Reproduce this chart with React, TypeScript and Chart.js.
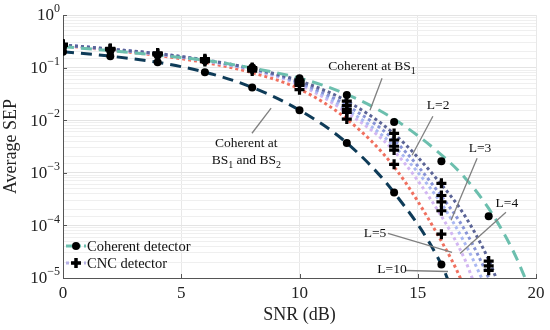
import { useEffect, useRef } from 'react';
import { Chart, registerables } from 'chart.js';

Chart.register(...registerables);

const FONT = '"Liberation Serif", "DejaVu Serif", serif';

// ---- data ----
const snrMarkers = [0, 2, 4, 6, 8, 10, 12, 14, 16, 18];

const coherentBS1X = [0, 2, 4, 6, 8, 10, 12, 14, 16, 17, 18, 19, 19.5, 20];
const coherentBS1Y = [0.25, 0.21, 0.172, 0.138, 0.098, 0.063, 0.031, 0.0105, 2.2e-3, 8e-4, 2.1e-4, 3.5e-5, 1.1e-5, 3e-6];

const coherentBothX = [0, 2, 4, 6, 8, 10, 12, 14, 16, 16.5, 17];
const coherentBothY = [0.2, 0.165, 0.126, 0.082, 0.042, 0.0155, 0.0037, 4.2e-4, 1.8e-5, 5e-6, 1.2e-6];

const cncL2X = [0, 2, 4, 6, 8, 10, 12, 14, 16, 17, 18, 18.5, 19];
const cncL2Y = [0.27, 0.225, 0.185, 0.14, 0.096, 0.056, 0.023, 5.5e-3, 6e-4, 1.5e-4, 2.2e-5, 6e-6, 1.5e-6];
const cncL3X = [0, 2, 4, 6, 8, 10, 12, 14, 16, 17, 18, 18.5];
const cncL3Y = [0.27, 0.224, 0.183, 0.138, 0.094, 0.052, 0.019, 4.2e-3, 3.6e-4, 8e-5, 1e-5, 2.8e-6];
const cncL4X = [0, 2, 4, 6, 8, 10, 12, 14, 16, 17, 17.7, 18.2];
const cncL4Y = [0.27, 0.223, 0.182, 0.136, 0.092, 0.05, 0.016, 3.2e-3, 2.6e-4, 4.5e-5, 1e-5, 3e-6];
const cncL5X = [0, 2, 4, 6, 8, 10, 12, 14, 16, 17, 17.3, 17.8];
const cncL5Y = [0.268, 0.222, 0.18, 0.134, 0.09, 0.047, 0.014, 2.6e-3, 1.5e-4, 2.2e-5, 1e-5, 2.5e-6];
const cncL10X = [0, 2, 4, 6, 8, 10, 12, 14, 16, 16.8, 17.3];
const cncL10Y = [0.262, 0.215, 0.17, 0.125, 0.08, 0.039, 0.0105, 1.3e-3, 5e-5, 1e-5, 2.6e-6];

// simulation markers
const coherentBS1Sim = [0.245, 0.205, 0.17, 0.135, 0.1, 0.063, 0.03, 0.0092, 1.65e-3, 1.5e-4];
const coherentBothSim = [0.2, 0.165, 0.127, 0.082, 0.042, 0.0155, 0.0037, 4.2e-4, 1.8e-5, null];
const cncL2Sim = [0.28, 0.232, 0.19, 0.148, 0.1, 0.058, 0.023, 5.6e-3, 6.3e-4, 2.1e-5];
const cncL3Sim = [0.275, 0.228, 0.186, 0.143, 0.097, 0.053, 0.019, 4.2e-3, 3.7e-4, 1.7e-5];
const cncL4Sim = [0.272, 0.225, 0.184, 0.14, 0.095, 0.049, 0.016, 3.2e-3, 2.8e-4, 1.4e-5];
const cncL5Sim = [0.27, 0.223, 0.181, 0.137, 0.093, 0.046, 0.014, 2.7e-3, 1.9e-4, null];
const cncL10Sim = [0.265, 0.218, 0.175, 0.13, 0.086, 0.038, 0.0105, 1.45e-3, 6.8e-5, null];

const yTickExponents = [0, -1, -2, -3, -4, -5];
const xTickValues = [0, 5, 10, 15, 20];

const legendLabels = ['Coherent detector', 'CNC detector'];

type Run = { t: string; sub?: boolean; sup?: boolean };
const annotations: { lines: Run[][]; x: number; y: number[]; arrow?: [number, number, number, number] }[] = [
  { lines: [[{ t: 'Coherent at BS' }, { t: '1', sub: true }]], x: 13.07, y: [0.107], arrow: [13.49, 0.063, 12.98, 0.0155] },
  {
    lines: [[{ t: 'Coherent at' }], [{ t: 'BS' }, { t: '1', sub: true }, { t: ' and BS' }, { t: '2', sub: true }]],
    x: 7.75, y: [3.65e-3, 1.73e-3], arrow: [7.99, 5.65e-3, 8.8, 0.0169],
  },
  { lines: [[{ t: 'L=2' }]], x: 15.86, y: [0.0193], arrow: [15.64, 0.0119, 14.76, 2.16e-3] },
  { lines: [[{ t: 'L=3' }]], x: 17.63, y: [2.93e-3], arrow: [17.51, 1.89e-3, 16.41, 1.25e-4] },
  { lines: [[{ t: 'L=4' }]], x: 18.77, y: [2.62e-4], arrow: [18.73, 1.77e-4, 16.79, 2.93e-5] },
  { lines: [[{ t: 'L=5' }]], x: 13.19, y: [7.05e-5], arrow: [13.74, 7.05e-5, 16.45, 3.06e-5] },
  { lines: [[{ t: 'L=10' }]], x: 13.91, y: [1.45e-5], arrow: [14.46, 1.39e-5, 16.28, 1.33e-5] },
];

const TEAL = '#6cbfae';
const NAVY = '#0e3b58';
const RED = '#f0705f';
const L2C = '#5b6496';
const L3C = '#8793d6';
const L4C = '#aab8f2';
const L5C = '#d2b6f2';
const LEGEND_CNC = '#b7b2e6';

const toXY = (xs: number[], ys: (number | null)[]) => xs.map((x, i) => ({ x, y: ys[i] }));

function drawRuns(ctx: CanvasRenderingContext2D, runs: Run[], cx: number, cy: number, size: number) {
  const widths: number[] = [];
  let total = 0;
  for (const r of runs) {
    ctx.font = `${r.sub || r.sup ? Math.round(size * 0.72) : size}px ${FONT}`;
    const w = ctx.measureText(r.t).width;
    widths.push(w);
    total += w;
  }
  let x = cx - total / 2;
  runs.forEach((r, i) => {
    ctx.font = `${r.sub || r.sup ? Math.round(size * 0.72) : size}px ${FONT}`;
    const dy = r.sub ? size * 0.38 : r.sup ? -size * 0.4 : 0;
    ctx.fillText(r.t, x, cy + dy);
    x += widths[i];
  });
}

const decorPlugin = {
  id: 'decor',
  afterDatasetsDraw(chart: any) {
    const ctx: CanvasRenderingContext2D = chart.ctx;
    const xs = chart.scales.x;
    const ys = chart.scales.y;
    const area = chart.chartArea;
    ctx.save();
    // inward tick marks
    ctx.strokeStyle = '#555';
    ctx.lineWidth = 1;
    ctx.beginPath();
    for (const v of xTickValues) {
      const px = Math.round(xs.getPixelForValue(v)) + 0.5;
      ctx.moveTo(px, area.bottom);
      ctx.lineTo(px, area.bottom - 4);
    }
    for (const e of yTickExponents) {
      const py = Math.round(ys.getPixelForValue(Math.pow(10, e))) + 0.5;
      ctx.moveTo(area.left, py);
      ctx.lineTo(area.left + 4, py);
    }
    ctx.stroke();

    // y tick labels with superscripts
    ctx.fillStyle = '#222';
    ctx.textBaseline = 'middle';
    ctx.textAlign = 'left';
    for (const e of yTickExponents) {
      const py = ys.getPixelForValue(Math.pow(10, e));
      const exp = e === 0 ? '0' : '\u2212' + String(-e);
      ctx.font = `17px ${FONT}`;
      const wBase = ctx.measureText('10').width;
      ctx.font = `12px ${FONT}`;
      const wExp = ctx.measureText(exp).width;
      const right = area.left - 3;
      const x0 = right - wBase - wExp;
      ctx.font = `17px ${FONT}`;
      ctx.fillText('10', x0, py + 1);
      ctx.font = `12px ${FONT}`;
      ctx.fillText(exp, x0 + wBase, py - 6);
    }

    // annotations
    ctx.strokeStyle = '#808080';
    ctx.lineWidth = 1.3;
    ctx.fillStyle = '#111';
    for (const a of annotations) {
      if (a.arrow) {
        ctx.beginPath();
        ctx.moveTo(xs.getPixelForValue(a.arrow[0]), ys.getPixelForValue(a.arrow[1]));
        ctx.lineTo(xs.getPixelForValue(a.arrow[2]), ys.getPixelForValue(a.arrow[3]));
        ctx.stroke();
      }
      a.lines.forEach((line, i) => {
        drawRuns(ctx, line, xs.getPixelForValue(a.x), ys.getPixelForValue(a.y[i]), 13.5);
      });
    }

    // legend
    const lx = area.left + 3;
    const rows = [
      { color: TEAL, dash: [6, 3], marker: 'circle' },
      { color: LEGEND_CNC, dash: [3, 3], marker: 'cross' },
    ];
    rows.forEach((r, i) => {
      const cy = area.bottom - 32 + i * 17;
      ctx.strokeStyle = r.color;
      ctx.lineWidth = 3;
      ctx.setLineDash(r.dash);
      ctx.beginPath();
      ctx.moveTo(lx, cy);
      ctx.lineTo(lx + 20, cy);
      ctx.stroke();
      ctx.setLineDash([]);
      ctx.fillStyle = '#000';
      ctx.strokeStyle = '#000';
      if (r.marker === 'circle') {
        ctx.beginPath();
        ctx.arc(lx + 10, cy, 4, 0, Math.PI * 2);
        ctx.fill();
      } else {
        ctx.lineWidth = 3.5;
        ctx.beginPath();
        ctx.moveTo(lx + 5, cy);
        ctx.lineTo(lx + 15, cy);
        ctx.moveTo(lx + 10, cy - 5);
        ctx.lineTo(lx + 10, cy + 5);
        ctx.stroke();
      }
      ctx.fillStyle = '#111';
      ctx.font = `14.5px ${FONT}`;
      ctx.textAlign = 'left';
      ctx.fillText(legendLabels[i], lx + 21, cy + 1);
    });
    ctx.restore();
  },
};

function lineDs(label: string, xs: number[], ys: number[], color: string, dash: number[]) {
  return {
    label,
    data: toXY(xs, ys),
    borderColor: color,
    backgroundColor: color,
    borderWidth: 3,
    borderDash: dash,
    borderCapStyle: 'butt',
    pointRadius: 0,
    cubicInterpolationMode: 'monotone',
    fill: false,
    order: 2,
  };
}

function markerDs(label: string, ys: (number | null)[], style: string) {
  return {
    label,
    data: toXY(snrMarkers, ys).filter((p) => p.y !== null),
    showLine: false,
    pointStyle: style,
    pointRadius: style === 'circle' ? 4 : 5,
    pointBorderWidth: style === 'circle' ? 0 : 3.2,
    pointBackgroundColor: '#000',
    pointBorderColor: '#000',
    order: 1,
  };
}

export default function App() {
  const ref = useRef<HTMLCanvasElement | null>(null);
  useEffect(() => {
    document.body.style.margin = '0';
    if (!ref.current) return;
    const chart = new Chart(ref.current, {
      type: 'line',
      data: {
        datasets: [
          markerDs('cohBS1 sim', coherentBS1Sim, 'circle'),
          markerDs('cohBoth sim', coherentBothSim, 'circle'),
          markerDs('L2 sim', cncL2Sim, 'cross'),
          markerDs('L3 sim', cncL3Sim, 'cross'),
          markerDs('L4 sim', cncL4Sim, 'cross'),
          markerDs('L5 sim', cncL5Sim, 'cross'),
          markerDs('L10 sim', cncL10Sim, 'cross'),
          lineDs('Coherent at BS1', coherentBS1X, coherentBS1Y, TEAL, [11, 7]),
          lineDs('Coherent at BS1 and BS2', coherentBothX, coherentBothY, NAVY, [11, 7]),
          lineDs('L=2', cncL2X, cncL2Y, L2C, [3, 3]),
          lineDs('L=3', cncL3X, cncL3Y, L3C, [3, 3]),
          lineDs('L=4', cncL4X, cncL4Y, L4C, [3, 3]),
          lineDs('L=5', cncL5X, cncL5Y, L5C, [3, 3]),
          lineDs('L=10', cncL10X, cncL10Y, RED, [3, 3]),
        ] as any,
      },
      options: {
        animation: false,
        responsive: false,
        devicePixelRatio: 1,
        layout: { padding: { top: 15, right: 14, left: 0, bottom: 0 } },
        plugins: { legend: { display: false }, tooltip: { enabled: false } },
        scales: {
          x: {
            type: 'linear',
            min: 0,
            max: 20,
            afterBuildTicks: (s: any) => {
              s.ticks = xTickValues.map((v) => ({ value: v }));
            },
            ticks: { font: { family: FONT, size: 17 }, color: '#222', padding: 5, maxRotation: 0 },
            grid: { color: '#e8e8e8', drawTicks: false, lineWidth: 1 },
            border: { display: true, color: '#555', width: 1 },
            title: { display: true, text: 'SNR (dB)', font: { family: FONT, size: 18 }, color: '#222', padding: { top: 0, bottom: 4 } },
            afterFit: (s: any) => {
              s.height = 52;
            },
          },
          y: {
            type: 'logarithmic',
            min: 1e-5,
            max: 1,
            ticks: { display: false },
            grid: {
              drawTicks: false,
              color: (c: any) => {
                const v = c.tick ? c.tick.value : 1;
                const l = Math.log10(v);
                return Math.abs(l - Math.round(l)) < 1e-6 ? '#e4e4e4' : '#efefef';
              },
              lineWidth: 1,
            },
            border: { display: true, color: '#555', width: 1 },
            title: { display: true, text: 'Average SEP', font: { family: FONT, size: 18 }, color: '#222', padding: { top: 0, bottom: 2 } },
            afterFit: (s: any) => {
              s.width = 63;
            },
          },
        },
      },
      plugins: [decorPlugin],
    } as any);
    return () => chart.destroy();
  }, []);
  return (
    <div style={{ width: 550, height: 330 }}>
      <canvas ref={ref} width={550} height={330} style={{ display: 'block' }} />
    </div>
  );
}
